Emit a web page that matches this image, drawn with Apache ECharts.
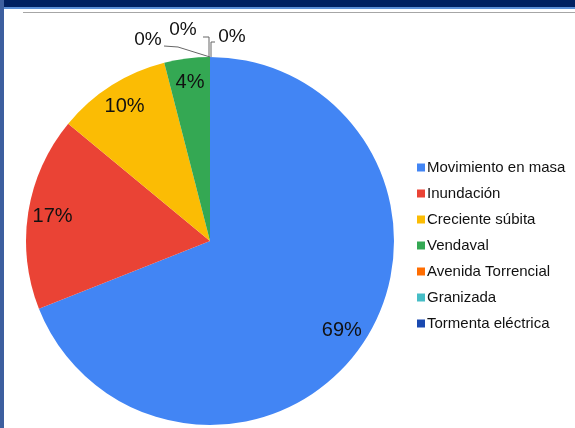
<!DOCTYPE html>
<html>
<head>
<meta charset="utf-8">
<script src="https://cdn.jsdelivr.net/npm/echarts@6/dist/echarts.min.js"></script>
<style>
  html, body { margin: 0; padding: 0; background: #fff; }
  #chart { width: 575px; height: 428px; }
</style>
</head>
<body>
<div id="chart"></div>
<script>
  // datos del gráfico
  var categories = ['Movimiento en masa', 'Inundación', 'Creciente súbita', 'Vendaval',
    'Avenida Torrencial', 'Granizada', 'Tormenta eléctrica'];
  var values = [69, 17, 10, 4, 0, 0, 0];
  var colors = ['#4285f4', '#ea4335', '#fbbc04', '#34a853', '#ff6d01', '#46bdc6', '#1a49b0'];

  // posiciones de las etiquetas 0% (arriba del pastel)
  var zeroLabels = {
    4: { x: 148, y: 40, line: [[210, 57], [178, 47], [164, 46]] },
    5: { x: 183, y: 30, line: [[209, 57], [209, 37], [203, 37]] },
    6: { x: 232, y: 37, line: [[211, 57], [211, 42], [215, 42]] }
  };

  var center = [210, 241];
  var radius = 184;

  function pct(p) {
    return Math.round(p.percent) + '%';
  }

  var mainData = categories.map(function (name, i) {
    return {
      name: name,
      value: values[i],
      itemStyle: { color: colors[i] },
      label: { show: zeroLabels[i] !== undefined },
      labelLine: { show: zeroLabels[i] !== undefined }
    };
  });

  var ghostData = categories.map(function (name, i) {
    return {
      name: name,
      value: values[i],
      label: { show: zeroLabels[i] === undefined }
    };
  });

  var myChart = echarts.init(document.getElementById('chart'));
  myChart.setOption({
    animation: false,
    color: colors,
    legend: {
      orient: 'vertical',
      left: 412,
      top: 155,
      itemWidth: 8,
      itemHeight: 8,
      itemGap: 11,
      icon: 'rect',
      data: categories,
      textStyle: { fontFamily: 'Liberation Sans', fontSize: 15, color: '#111', padding: [0, 0, 0, -3] }
    },
    graphic: [
      { type: 'rect', shape: { x: 0, y: 0, width: 575, height: 7 }, style: { fill: '#002060' } },
      { type: 'rect', shape: { x: 0, y: 7, width: 575, height: 2 }, style: { fill: '#5b8fd6' } },
      { type: 'rect', shape: { x: 0, y: 0, width: 4, height: 428 }, style: { fill: '#3d5f9f' } },
      { type: 'rect', shape: { x: 23, y: 12, width: 552, height: 1 }, style: { fill: '#a6a6a6' } }
    ],
    series: [
      {
        type: 'pie',
        center: center,
        radius: [0, radius],
        startAngle: 90,
        clockwise: true,
        avoidLabelOverlap: false,
        data: mainData,
        label: {
          position: 'outside',
          formatter: pct,
          fontFamily: 'Liberation Sans',
          fontSize: 19,
          color: '#111'
        },
        labelLine: { smooth: false, lineStyle: { color: '#666', width: 1 } },
        labelLayout: function (params) {
          var z = zeroLabels[params.dataIndex];
          if (!z) return {};
          return {
            x: z.x,
            y: z.y,
            align: 'center',
            verticalAlign: 'middle',
            labelLinePoints: z.line
          };
        },
        emphasis: { disabled: true }
      },
      {
        type: 'pie',
        center: center,
        radius: [radius * 0.7, radius],
        startAngle: 90,
        clockwise: true,
        silent: true,
        data: ghostData,
        itemStyle: { color: 'rgba(0,0,0,0)' },
        label: {
          position: 'inside',
          formatter: pct,
          fontFamily: 'Liberation Sans',
          fontSize: 20,
          color: '#111'
        },
        labelLine: { show: false }
      }
    ]
  });
</script>
</body>
</html>
